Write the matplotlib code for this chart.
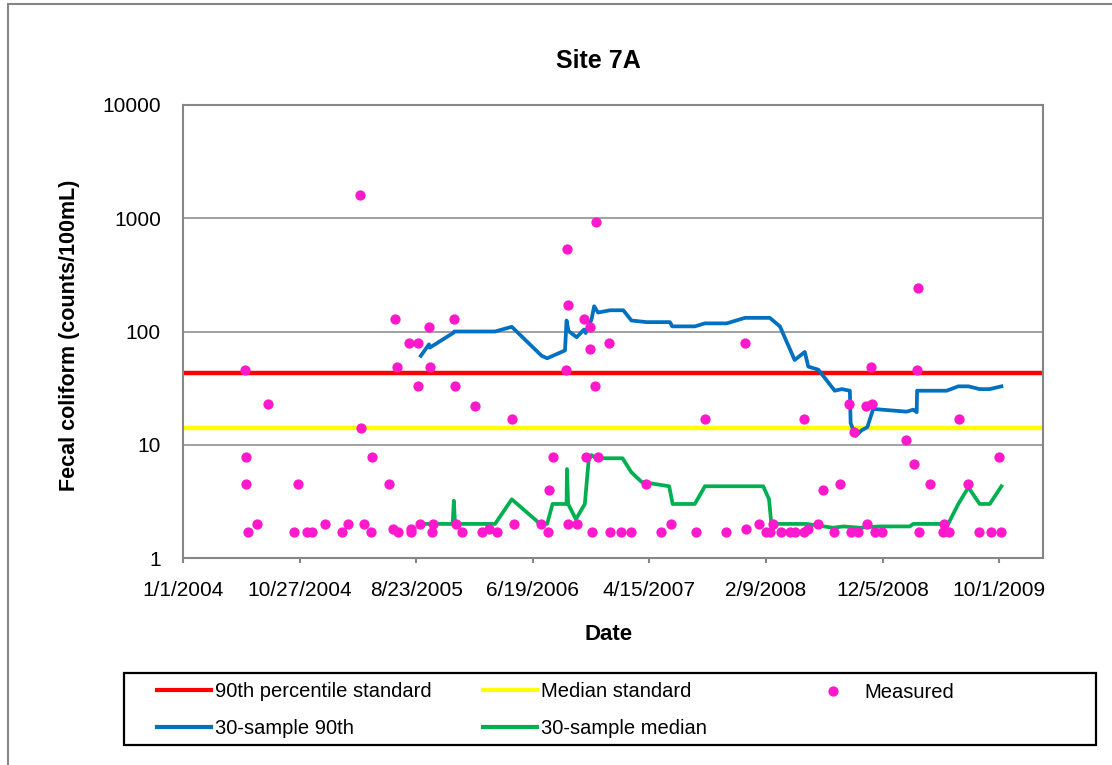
import matplotlib
matplotlib.use('Agg')
import matplotlib.pyplot as plt
from matplotlib.lines import Line2D
from matplotlib.patches import Rectangle
import pandas as pd

plt.rcParams['font.family'] = ['Liberation Sans', 'DejaVu Sans']

# Measured fecal coliform samples (counts/100mL)
measured_dates = [
    '2004-06-08', '2004-06-10', '2004-06-12', '2004-06-15', '2004-07-10', '2004-08-06',
    '2004-10-13', '2004-10-23', '2004-11-14', '2004-11-29', '2004-12-31', '2005-02-14',
    '2005-03-01', '2005-04-01', '2005-04-03', '2005-04-10', '2005-04-28', '2005-05-02',
    '2005-06-13', '2005-06-25', '2005-06-29', '2005-07-04', '2005-07-08', '2005-08-04',
    '2005-08-10', '2005-08-10', '2005-08-28', '2005-08-29', '2005-09-03', '2005-09-25',
    '2005-09-27', '2005-10-03', '2005-10-06', '2005-11-28', '2005-12-01', '2005-12-03',
    '2005-12-19', '2006-01-21', '2006-02-09', '2006-02-27', '2006-03-20', '2006-04-26',
    '2006-05-01', '2006-07-09', '2006-07-27', '2006-07-31', '2006-08-09', '2006-09-12',
    '2006-09-15', '2006-09-17', '2006-09-18', '2006-10-11', '2006-10-29', '2006-11-03',
    '2006-11-13', '2006-11-14', '2006-11-18', '2006-11-25', '2006-11-29', '2006-12-04',
    '2007-01-01', '2007-01-04', '2007-02-02', '2007-02-28', '2007-04-07', '2007-05-15',
    '2007-06-09', '2007-08-12', '2007-09-05', '2007-10-29', '2007-12-17', '2007-12-19',
    '2008-01-22', '2008-02-08', '2008-02-19', '2008-02-26', '2008-03-20', '2008-04-11',
    '2008-04-23', '2008-05-16', '2008-05-17', '2008-05-28', '2008-06-23', '2008-07-06',
    '2008-08-02', '2008-08-17', '2008-09-09', '2008-09-14', '2008-09-22', '2008-10-03',
    '2008-10-23', '2008-10-27', '2008-11-05', '2008-11-08', '2008-11-15', '2008-12-04',
    '2009-02-04', '2009-02-25', '2009-03-04', '2009-03-06', '2009-03-09', '2009-04-07',
    '2009-05-10', '2009-05-13', '2009-05-25', '2009-06-19', '2009-07-14', '2009-08-10',
    '2009-09-09', '2009-09-30', '2009-10-05',
]
measured_values = [
    46, 7.8, 4.5, 1.7, 2, 23,
    1.7, 4.5, 1.7, 1.7, 2, 1.7,
    2, 1600, 14, 2, 1.7, 7.8,
    4.5, 1.8, 130, 49, 1.7, 79,
    1.8, 1.7, 79, 33, 2, 110,
    49, 1.7, 2, 130, 33, 2,
    1.7, 22, 1.7, 1.8, 1.7, 17,
    2, 2, 1.7, 4, 7.8, 46,
    540, 170, 2, 2, 130, 7.8,
    70, 110, 1.7, 33, 920, 7.8,
    79, 1.7, 1.7, 1.7, 4.5, 1.7,
    2, 1.7, 17, 1.7, 79, 1.8,
    2, 1.7, 1.7, 2, 1.7, 1.7,
    1.7, 17, 1.7, 1.8, 2, 4,
    1.7, 4.5, 23, 1.7, 13, 1.7,
    22, 2, 49, 23, 1.7, 1.7,
    11, 6.8, 46, 240, 1.7, 4.5,
    1.7, 2, 1.7, 17, 4.5, 1.7,
    1.7, 7.8, 1.7,
]

# Rolling 30-sample 90th percentile
p90_dates = [
    '2005-09-04', '2005-09-25', '2005-09-27', '2005-11-26', '2005-11-29', '2006-01-26',
    '2006-03-14', '2006-04-26', '2006-07-12', '2006-07-26', '2006-09-10', '2006-09-14',
    '2006-09-19', '2006-10-10', '2006-10-29', '2006-11-02', '2006-11-17', '2006-11-24',
    '2006-12-04', '2007-01-04', '2007-02-07', '2007-02-28', '2007-04-08', '2007-06-07',
    '2007-06-13', '2007-08-10', '2007-09-05', '2007-10-31', '2007-12-17', '2008-02-19',
    '2008-03-16', '2008-04-23', '2008-05-19', '2008-05-28', '2008-06-23', '2008-08-04',
    '2008-08-22', '2008-09-12', '2008-09-14', '2008-09-27', '2008-10-12', '2008-10-27',
    '2008-11-11', '2009-02-05', '2009-02-22', '2009-03-03', '2009-03-04', '2009-05-19',
    '2009-06-18', '2009-07-14', '2009-08-12', '2009-09-07', '2009-10-07',
]
p90_values = [
    61, 77, 72, 97, 100, 100,
    100, 110, 61, 58, 68, 125,
    101, 89, 104, 97, 127, 167,
    147, 154, 154, 125, 121, 121,
    111, 111, 118, 118, 132, 132,
    111, 56, 66, 49, 46, 30,
    31, 30, 15.5, 12, 13.4, 14.3,
    20.7, 19.6, 20.4, 19.4, 30, 30,
    32.8, 32.8, 31, 31, 32.8,
]

# Rolling 30-sample median
median_dates = [
    '2005-09-19', '2005-11-25', '2005-11-28', '2005-12-01', '2006-03-14', '2006-04-26',
    '2006-07-08', '2006-07-26', '2006-08-09', '2006-09-14', '2006-09-15', '2006-09-18',
    '2006-10-08', '2006-10-31', '2006-11-10', '2006-11-17', '2006-11-30', '2007-02-05',
    '2007-02-28', '2007-03-26', '2007-06-05', '2007-06-14', '2007-08-10', '2007-09-05',
    '2008-02-02', '2008-02-17', '2008-02-23', '2008-05-23', '2008-07-31', '2008-08-26',
    '2008-10-08', '2008-11-28', '2009-02-13', '2009-02-22', '2009-05-23', '2009-06-18',
    '2009-07-14', '2009-08-12', '2009-09-07', '2009-10-07',
]
median_values = [
    2, 2, 3.2, 2, 2, 3.3,
    2, 2, 3, 3, 6.1, 3,
    2.2, 3, 7.4, 8.1, 7.6, 7.6,
    5.7, 4.7, 4.3, 3, 3, 4.3,
    4.3, 3.3, 2, 2, 1.85, 1.9,
    1.85, 1.9, 1.9, 2, 2, 3,
    4.2, 3, 3, 4.3,
]

std_90th = 43
std_median = 14

x_start = pd.Timestamp('2004-01-01')
x_end = pd.Timestamp('2010-01-22')

W, H = 1112, 765
fig = plt.figure(figsize=(W / 100, H / 100), dpi=100)
ax = fig.add_axes([183 / W, 1 - 558 / H, (1043 - 183) / W, (558 - 105) / H])

gray = '#868686'
magenta = '#FF19CC'

ax.axhline(std_90th, color='#FF0000', lw=3.2, zorder=2)
ax.axhline(std_median, color='#FFFF00', lw=3.2, zorder=2)
ax.plot(pd.to_datetime(p90_dates), p90_values, color='#0070C0', lw=2.7, zorder=3)
ax.plot(pd.to_datetime(median_dates), median_values, color='#00B050', lw=2.7, zorder=3)
ax.plot(pd.to_datetime(measured_dates), measured_values, ls='none', marker='o',
        markersize=7.4, markeredgewidth=0, color=magenta, zorder=4)

ax.set_yscale('log')
ax.set_ylim(1, 10000)
ax.set_yticks([1, 10, 100, 1000, 10000])
ax.set_yticklabels(['1', '10', '100', '1000', '10000'])
ax.minorticks_off()
ax.yaxis.grid(True, color=gray, lw=1.1)
ax.set_axisbelow(True)

ticks = pd.date_range(x_start, periods=8, freq='300D')
ax.set_xlim(x_start, x_end)
ax.set_xticks(ticks)
ax.set_xticklabels([f'{d.month}/{d.day}/{d.year}' for d in ticks])

ax.tick_params(axis='y', length=0, pad=16, labelsize=15)
ax.tick_params(axis='x', length=3.8, width=1.5, color=gray, pad=13, labelsize=15)
for s in ax.spines.values():
    s.set_color(gray)
    s.set_linewidth(1.5)

fig.text(598 / W, 1 - 61 / H, 'Site 7A', ha='center', va='center', fontsize=18, weight='bold')
fig.text(609 / W, 1 - 634 / H, 'Date', ha='center', va='center', fontsize=16, weight='bold')
fig.text(70 / W, 1 - 335 / H, 'Fecal coliform (counts/100mL)', ha='center', va='center',
         rotation=90, fontsize=15.5, weight='bold')

# outer chart border and legend box
fig.patches.append(Rectangle((8 / W, -0.1), 1.2, 1 - 4 / H + 0.1, transform=fig.transFigure,
                             fill=False, ec=gray, lw=1.5))
fig.patches.append(Rectangle((124 / W, 1 - 745 / H), (1096 - 124) / W, (745 - 673) / H,
                             transform=fig.transFigure, fill=False, ec='black', lw=1.6))

leg_kw = dict(frameon=False, fontsize=14.5, handlelength=2.7, handletextpad=0.2,
              labelspacing=0.85, borderpad=0, borderaxespad=0, loc='center left')
fig.legend(handles=[Line2D([], [], color='#FF0000', lw=3), Line2D([], [], color='#0070C0', lw=3)],
           labels=['90th percentile standard', '30-sample 90th'],
           bbox_to_anchor=(157 / W, 1 - 710 / H), **leg_kw)
fig.legend(handles=[Line2D([], [], color='#FFFF00', lw=3), Line2D([], [], color='#00B050', lw=3)],
           labels=['Median standard', '30-sample median'],
           bbox_to_anchor=(483 / W, 1 - 710 / H), **leg_kw)
fig.legend(handles=[Line2D([], [], ls='none', marker='o', markersize=7.4, markeredgewidth=0, color=magenta)],
           labels=['Measured'], numpoints=1,
           bbox_to_anchor=(806 / W, 1 - 693 / H), **leg_kw)

fig.savefig('out.png', dpi=100)
